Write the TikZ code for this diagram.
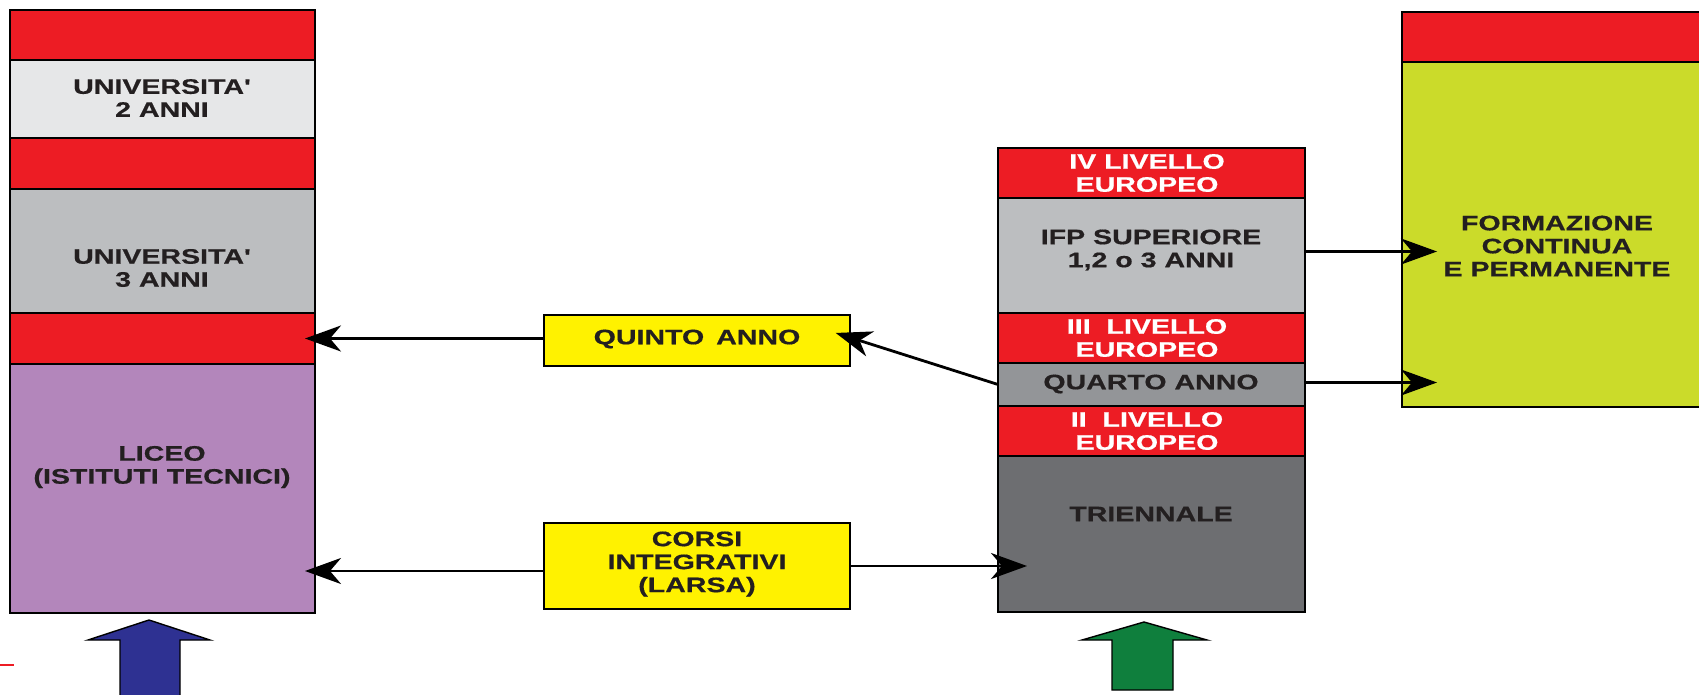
\documentclass[tikz,border=0pt]{standalone}
\usepackage{fontspec}
\newfontfamily\labfont[FakeStretch=1.36,FakeBold=0.6]{Liberation Sans}
\usetikzlibrary{arrows.meta}
\definecolor{cred}{HTML}{ED1C24}
\definecolor{clight}{HTML}{E6E7E8}
\definecolor{cgrey}{HTML}{BCBEC0}
\definecolor{cmid}{HTML}{939598}
\definecolor{cdark}{HTML}{6D6E71}
\definecolor{cpurple}{HTML}{B386BB}
\definecolor{cyellow}{HTML}{FFF200}
\definecolor{clime}{HTML}{CBDB2A}
\definecolor{cblue}{HTML}{2E3192}
\definecolor{cgreen}{HTML}{0F7F3D}
\definecolor{ctext}{HTML}{231F20}
\begin{document}
\begin{tikzpicture}[x=1pt,y=-1pt,
  box/.style={draw=black, line width=1.4pt, anchor=north west, inner sep=0pt, outer sep=0pt},
  txt/.style={font=\labfont\bfseries\fontsize{21}{23}\selectfont, align=center, text=ctext, inner sep=0pt},
  wtxt/.style={txt, text=white},
  arr/.style={-{Stealth[length=36pt,width=26pt,inset=11pt]}, line width=2.8pt}]
\useasboundingbox (0,0) rectangle (1699,695);
\clip (0,0) rectangle (1699,695);
\fill[white] (0,0) rectangle (1699,695);

% left column
\node[box, fill=cred,    minimum width=305pt, minimum height=50pt]  (lr1)   at (10,10) {};
\node[box, fill=clight,  minimum width=305pt, minimum height=78pt]  (u2)    at (10,60) {};
\node[box, fill=cred,    minimum width=305pt, minimum height=51pt]  (lr2)   at (10,138) {};
\node[box, fill=cgrey,   minimum width=305pt, minimum height=124pt] (u3)    at (10,189) {};
\node[box, fill=cred,    minimum width=305pt, minimum height=51pt]  (lr3)   at (10,313) {};
\node[box, fill=cpurple, minimum width=305pt, minimum height=249pt] (liceo) at (10,364) {};
\node[txt] (u2t) at (162,98) {UNIVERSITA'\\2 ANNI};
\node[txt] (u3t) at (162,268) {UNIVERSITA'\\3 ANNI};
\node[txt] (licet) at (162,467) {LICEO\\(ISTITUTI TECNICI)};

% middle column
\node[box, fill=cred,  minimum width=307pt, minimum height=50pt]  (m4)     at (998,148) {};
\node[box, fill=cgrey, minimum width=307pt, minimum height=115pt] (ifp)    at (998,198) {};
\node[box, fill=cred,  minimum width=307pt, minimum height=50pt]  (m3)     at (998,313) {};
\node[box, fill=cmid,  minimum width=307pt, minimum height=43pt]  (quarto) at (998,363) {};
\node[box, fill=cred,  minimum width=307pt, minimum height=50pt]  (m2)     at (998,406) {};
\node[box, fill=cdark, minimum width=307pt, minimum height=156pt] (trien)  at (998,456) {};
\node[wtxt] (m4t) at (1147,173) {IV LIVELLO\\EUROPEO};
\node[txt]  (ifpt) at (1151,250) {IFP SUPERIORE\\1,2 o 3 ANNI};
\node[wtxt] (m3t) at (1147,338) {III\ \ LIVELLO\\EUROPEO};
\node[txt]  (quartot) at (1151,384) {QUARTO ANNO};
\node[wtxt] (m2t) at (1147,431) {II\ \ LIVELLO\\EUROPEO};
\node[txt]  (trient) at (1151,514) {TRIENNALE};

% right column
\node[box, fill=cred,  minimum width=310pt, minimum height=50pt]  (rr)   at (1402,12) {};
\node[box, fill=clime, minimum width=310pt, minimum height=345pt] (form) at (1402,62) {};
\node[txt] (formt) at (1557,246) {FORMAZIONE\\CONTINUA\\E PERMANENTE};

% yellow boxes
\node[box, fill=cyellow, minimum width=306pt, minimum height=51pt] (quinto) at (544,315) {};
\node[box, fill=cyellow, minimum width=306pt, minimum height=86pt] (corsi)  at (544,523) {};
\node[txt] (quintot) at (697,339) {QUINTO\hspace{12pt}ANNO};
\node[txt] (corsit) at (697,564) {CORSI\\INTEGRATIVI\\(LARSA)};

% arrows
\draw[arr, shorten >=-10pt] ([yshift=2pt]quinto.west) -- ([yshift=2pt]quinto.west -| lr3.east);
\draw[arr, shorten >=-15pt] (quarto.west) -- ([yshift=3pt]quinto.east);
\draw[arr, shorten >=-10pt] ([yshift=-5pt]corsi.west) -- ([yshift=-5pt]corsi.west -| liceo.east);
\draw[arr, shorten >=-29pt] (corsi.east) -- (corsi.east -| trien.west);
\draw[arr, shorten >=-35pt] ([yshift=4pt]ifp.east) -- ([yshift=4pt]ifp.east -| form.west);
\draw[arr, shorten >=-35pt] ([yshift=2pt]quarto.east) -- ([yshift=2pt]quarto.east -| form.west);

% block arrows
\draw[fill=cblue, line width=1.4pt] (120,705) -- (120,640) -- (88,640) -- (149,620) -- (210,640) -- (180,640) -- (180,705) -- cycle;
\draw[fill=cgreen, line width=1.4pt] (1112,690) -- (1112,640) -- (1082,640) -- (1144,622) -- (1207,640) -- (1173,640) -- (1173,690) -- cycle;

% small red dash
\draw[cred, line width=2pt] (0,665) -- (14,665);
\end{tikzpicture}
\end{document}
